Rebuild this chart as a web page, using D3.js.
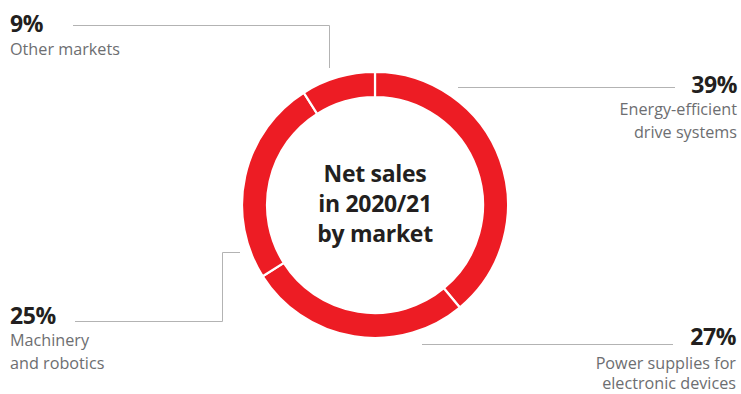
<!DOCTYPE html>
<html>
<head>
<meta charset="utf-8">
<script src="https://cdn.jsdelivr.net/npm/d3@7"></script>
<style>
  html, body { margin: 0; padding: 0; background: #fff; }
  svg { display: block; }
</style>
</head>
<body>
<svg id="chart" width="741" height="394"></svg>
<script>
// Net sales shares by market, fiscal 2020/21 (clockwise from 12 o'clock)
const markets = ["Energy-efficient drive systems", "Power supplies for electronic devices", "Machinery and robotics", "Other markets"];
const shares = [39, 27, 25, 9];
const labelLines = [
  ["Energy-efficient", "drive systems"],
  ["Power supplies for", "electronic devices"],
  ["Machinery", "and robotics"],
  ["Other markets"]
];
const centerTitle = ["Net sales", "in 2020/21", "by market"];

const svg = d3.select("#chart");
const cx = 375, cy = 205;
const outerR = 133, innerR = 108;
const red = "#ed1c24";
const grey = "#6d6e71";
const dark = "#231f20";
const leader = "#b3b3b3";
const font = "'Open Sans', sans-serif";

const data = markets.map((m, i) => ({ market: m, value: shares[i], lines: labelLines[i] }));

const pie = d3.pie().value(d => d.value).sort(null);
const arc = d3.arc().innerRadius(innerR).outerRadius(outerR);
const arcs = pie(data);

const g = svg.append("g").attr("transform", `translate(${cx},${cy})`);
g.selectAll("path")
  .data(arcs)
  .join("path")
  .attr("d", arc)
  .attr("fill", red)
  .attr("stroke", "#fff")
  .attr("stroke-width", 2.2);

// Title in the hole
g.append("text")
  .attr("text-anchor", "middle")
  .attr("font-family", font)
  .attr("font-weight", 700)
  .attr("font-size", 23)
  .attr("fill", dark)
  .selectAll("tspan")
  .data(centerTitle)
  .join("tspan")
  .attr("x", 0)
  .attr("y", (d, i) => -23 + i * 30)
  .attr("letter-spacing", -0.3)
  .text(d => d);

// Leader lines for each segment
const leaders = [
  [[458, 87.5], [675, 87.5]],
  [[422, 344.5], [673, 344.5]],
  [[75, 321.5], [222.5, 321.5], [222.5, 252.5], [240, 252.5]],
  [[73, 25.5], [329.5, 25.5], [329.5, 68]]
];
svg.append("g")
  .selectAll("path")
  .data(leaders)
  .join("path")
  .attr("d", d => d3.line()(d))
  .attr("fill", "none")
  .attr("stroke", leader)
  .attr("stroke-width", 1);

// Label placement: anchor, x, percent baseline, first description baseline, line step
const labelPos = [
  { anchor: "end", x: 737, y: 93, y2: 115, step: 22.5 },
  { anchor: "end", x: 736, y: 344.5, y2: 368.5, step: 20.5 },
  { anchor: "start", x: 10, y: 324, y2: 346, step: 22.5 },
  { anchor: "start", x: 10, y: 32, y2: 55, step: 22.5 }
];

const labels = svg.append("g")
  .selectAll("g")
  .data(arcs)
  .join("g");

labels.append("text")
  .attr("x", (d, i) => labelPos[i].x)
  .attr("y", (d, i) => labelPos[i].y)
  .attr("text-anchor", (d, i) => labelPos[i].anchor)
  .attr("font-family", font)
  .attr("font-weight", 700)
  .attr("font-size", 23)
  .attr("letter-spacing", -0.4)
  .attr("fill", dark)
  .text(d => d.data.value + "%");

labels.append("text")
  .attr("text-anchor", (d, i) => labelPos[i].anchor)
  .attr("font-family", font)
  .attr("font-size", 16.2)
  .attr("fill", grey)
  .each(function (d, i) {
    d3.select(this).selectAll("tspan")
      .data(d.data.lines)
      .join("tspan")
      .attr("x", labelPos[i].x)
      .attr("y", (t, j) => labelPos[i].y2 + j * labelPos[i].step)
      .text(t => t);
  });
</script>
</body>
</html>
